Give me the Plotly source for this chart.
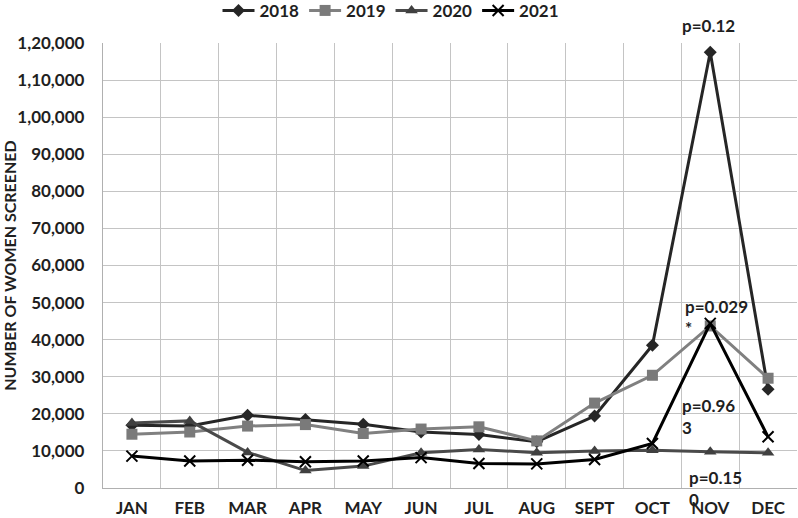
import plotly.graph_objects as go

months = ["JAN", "FEB", "MAR", "APR", "MAY", "JUN", "JUL", "AUG", "SEPT", "OCT", "NOV", "DEC"]
y2018 = [16900, 16700, 19600, 18500, 17200, 15100, 14400, 12500, 19400, 38500, 117500, 26600]
y2019 = [14500, 15100, 16700, 17100, 14700, 15900, 16500, 12700, 22900, 30400, 43700, 29600]
y2020 = [17500, 18100, 9600, 4700, 5900, 9500, 10400, 9500, 10000, 10200, 9800, 9500]
y2021 = [8600, 7300, 7500, 7100, 7300, 8200, 6600, 6500, 7700, 12000, 44400, 13800]

YMAX = 120000
ytick_vals = [0, 10000, 20000, 30000, 40000, 50000, 60000, 70000, 80000, 90000, 100000, 110000, 120000]
ytick_text = ["0", "10,000", "20,000", "30,000", "40,000", "50,000", "60,000", "70,000",
              "80,000", "90,000", "1,00,000", "1,10,000", "1,20,000"]

# p-value annotations: (text, vertical centre in data units)
p_texts = ["p=0.12", "p=0.029<br>*", "p=0.96<br>3", "p=0.15<br>0"]
p_ys = [124850, 45900, 19300, -150]
p_xshift = [-1, 2, -1, 6]

FONT = "Lato, 'Liberation Sans', Arial, sans-serif"
TXT = "#1f1f1f"

series = [
    ("2018", y2018, "#262626", "#262626", "diamond", 10),
    ("2019", y2019, "#808080", "#7a7a7a", "square", 11),
    ("2020", y2020, "#4a4a4a", "#404040", "triangle-up", 11),
    ("2021", y2021, "#000000", "#000000", "x-thin", 11),
]

fig = go.Figure()
for name, vals, lc, mc, sym, ms in series:
    marker = dict(symbol=sym, size=ms, color=mc)
    if sym == "x-thin":
        marker["line"] = dict(width=2, color=mc)
    fig.add_trace(go.Scatter(
        x=months, y=vals, name=name, mode="lines+markers",
        line=dict(color=lc, width=3), marker=marker, cliponaxis=False,
    ))

for t, yv, xs in zip(p_texts, p_ys, p_xshift):
    fig.add_annotation(
        x=9.5, y=yv / YMAX, xref="x", yref="paper", text=t, showarrow=False,
        xanchor="left", yanchor="middle", align="left", xshift=xs,
        font=dict(family=FONT, size=17, color=TXT, weight="bold"),
    )

fig.update_layout(
    width=798, height=518,
    margin=dict(l=103, r=1, t=43, b=30, autoexpand=False),
    paper_bgcolor="white", plot_bgcolor="white",
    font=dict(family=FONT, size=16, color=TXT, weight="bold"),
    showlegend=True,
    legend=dict(orientation="h", x=0.415, xanchor="center", yref="container", y=0.979,
                yanchor="middle", font=dict(size=17, weight="bold", color=TXT),
                bgcolor="rgba(0,0,0,0)", traceorder="normal", itemwidth=32),
    xaxis=dict(type="category", tickson="boundaries", showgrid=True, gridcolor="#c4c4c4",
               gridwidth=1.3, ticks="", showline=True, linecolor="#b0b0b0", linewidth=1.3,
               tickfont=dict(size=17, weight="bold"), ticklabelstandoff=4,
               range=[-0.5, 11.5], zeroline=False, automargin=False),
    yaxis=dict(range=[0, YMAX], tickvals=ytick_vals, ticktext=ytick_text, showgrid=True,
               gridcolor="#c4c4c4", gridwidth=1.3, ticks="", showline=True, linecolor="#b0b0b0",
               linewidth=1.3, zeroline=False, ticklabelstandoff=14, automargin=False,
               tickfont=dict(size=17, weight="bold"),
               title=dict(text="NUMBER OF WOMEN SCREENED", font=dict(size=16, weight="bold"),
                          standoff=6)),
)

fig.write_html("out.html")
